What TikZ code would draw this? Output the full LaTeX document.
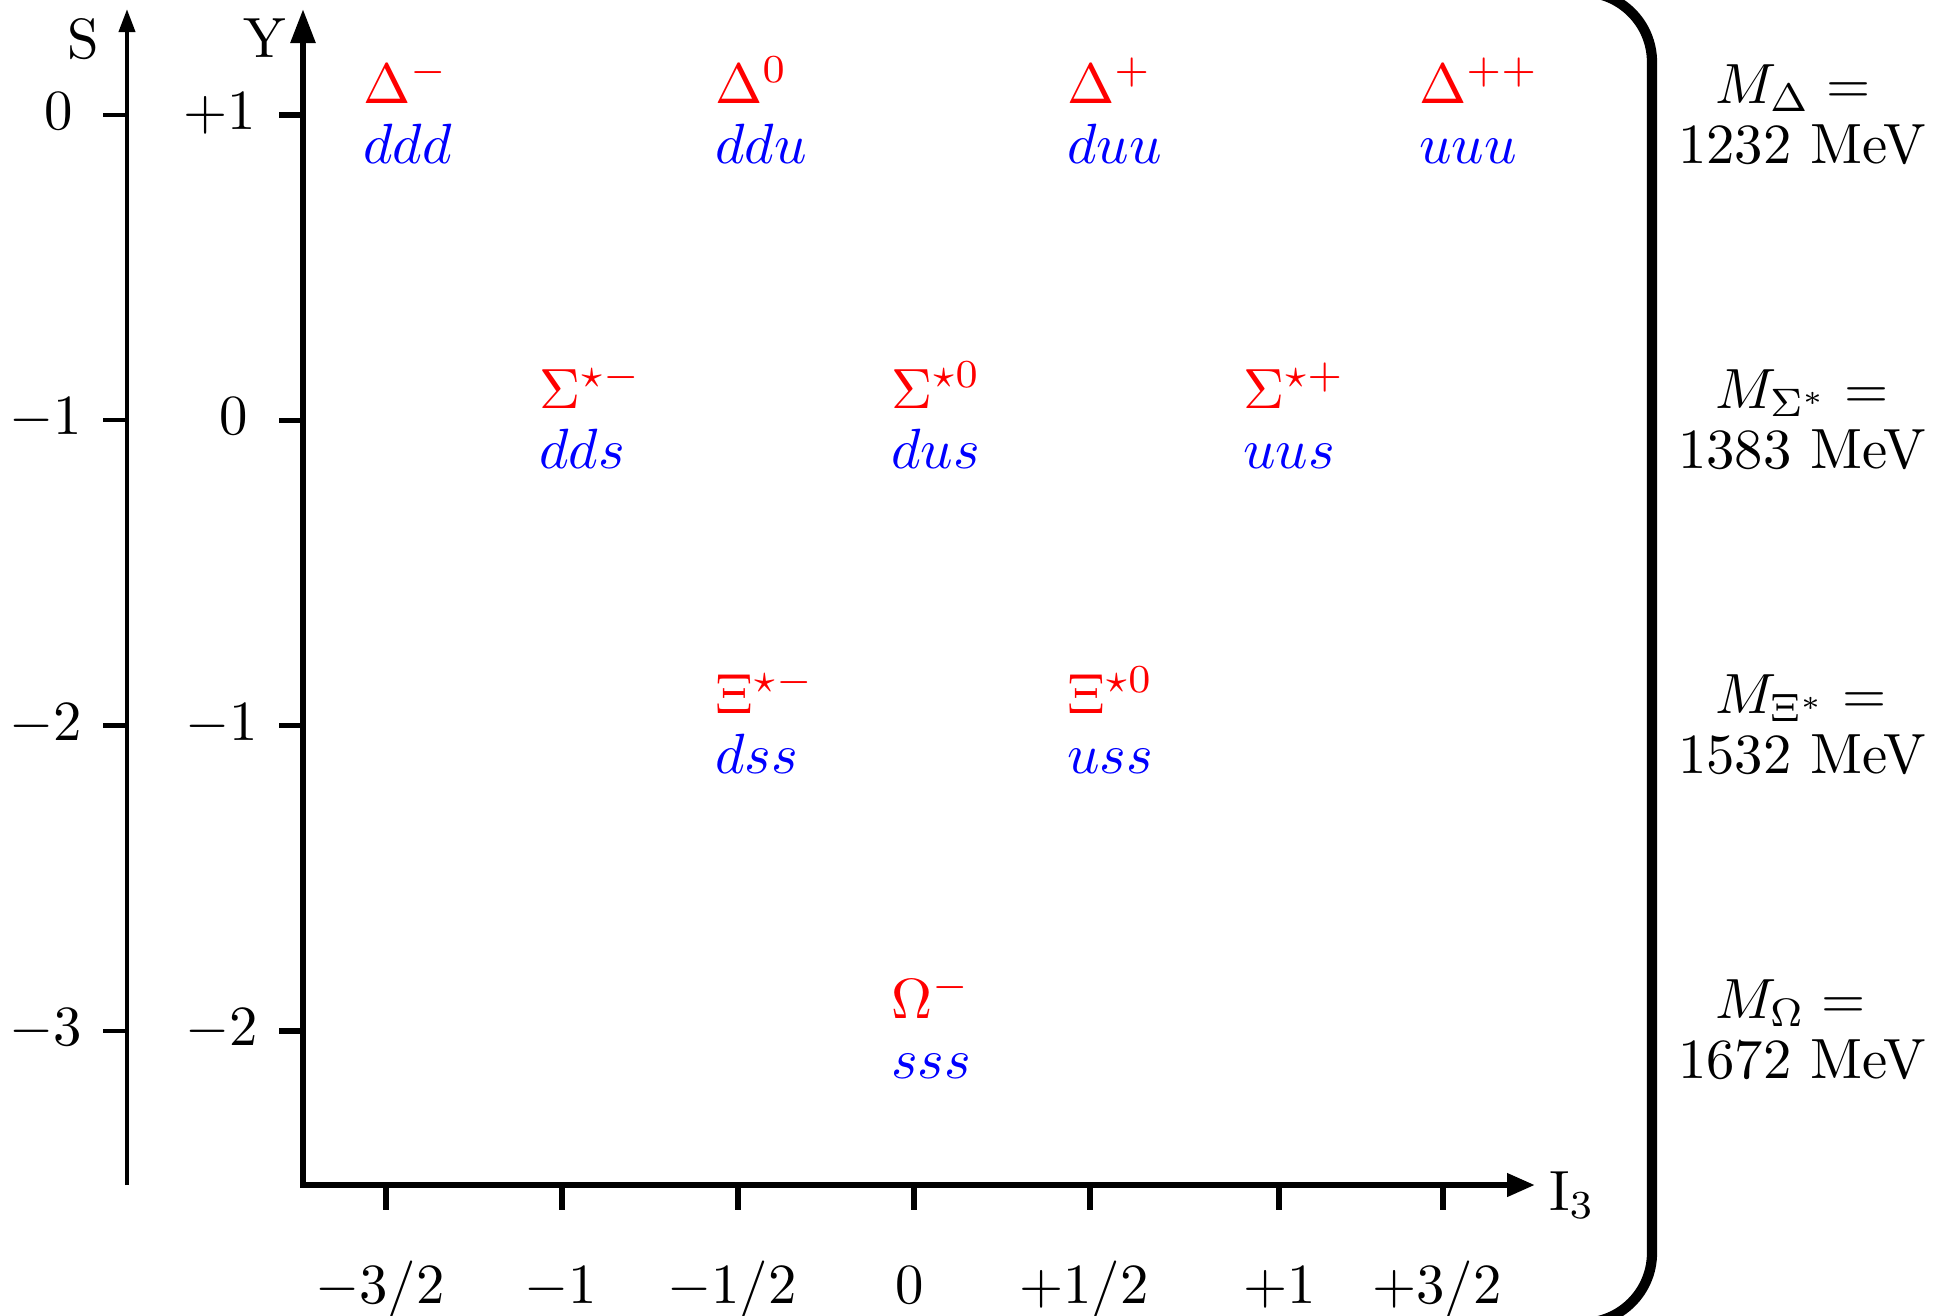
\documentclass[tikz,border=0pt]{standalone}
\usetikzlibrary{arrows.meta}
\begin{document}
\begin{tikzpicture}[x=0.0062cm,y=-0.0062cm,
  lab/.style={inner sep=0pt,anchor=base},
  part/.style={inner sep=0pt,anchor=base west,text=red},
  quark/.style={inner sep=0pt,anchor=base west,text=blue},
  mass/.style={inner sep=0pt,anchor=base west},
  saxis/.style={line width=0.75pt},
  yaxis/.style={line width=1.1pt},
  ytick/.style={line width=0.95pt},
  frameline/.style={line width=1.8pt,rounded corners=12.35pt}]
\useasboundingbox (0,0) rectangle (1937,1315);
\clip (0,0) rectangle (1937,1315);

% S axis
\coordinate (S0) at (127,1185);
\coordinate (S1) at (127,9);
\draw[saxis,-{Triangle[length=4.06pt,width=2.8pt]}] (S0) -- (S1);
\foreach \i in {0,1,2,3} {
  \coordinate (sa\i) at (103,115+305.3*\i);
  \coordinate (sb\i) at (127,115+305.3*\i);
  \draw[saxis] (sa\i) -- (sb\i);
}
\node[lab] (Slab) at (83,58) {S};
\node[lab] (s0) at (59,129) {$0$};
\node[lab] (s1) at (46,434) {$-1$};
\node[lab] (s2) at (46,740) {$-2$};
\node[lab] (s3) at (46,1045) {$-3$};

% Y and I3 axes
\coordinate (Ytop) at (303,9);
\coordinate (O) at (303,1185);
\coordinate (Iend) at (1535,1185);
\draw[yaxis,{Triangle[length=6pt,width=4.2pt]}-{Triangle[length=4.9pt,width=3.9pt]}] (Ytop) -- (O) -- (Iend);
\foreach \i in {0,1,2,3} {
  \coordinate (ya\i) at (279,115+305.3*\i);
  \coordinate (yb\i) at (303,115+305.3*\i);
  \draw[ytick] (ya\i) -- (yb\i);
}
\node[lab] (Ylab) at (265,57) {Y};
\node[lab] (y0) at (220,129) {$+1$};
\node[lab] (y1) at (234,434) {$0$};
\node[lab] (y2) at (222,740) {$-1$};
\node[lab] (y3) at (222,1045) {$-2$};

% I3 ticks
\foreach \x [count=\n] in {386,562,738,914,1090,1279,1443} {
  \coordinate (ta\n) at (\x,1185);
  \coordinate (tb\n) at (\x,1210);
  \draw[ytick] (ta\n) -- (tb\n);
}
\node[lab] (i1) at (380,1303) {$-3/2$};
\node[lab] (i2) at (561,1303) {$-1$};
\node[lab] (i3) at (732,1303) {$-1/2$};
\node[lab] (i4) at (910,1303) {$0$};
\node[lab] (i5) at (1084,1303) {$+1/2$};
\node[lab] (i6) at (1280,1303) {$+1$};
\node[lab] (i7) at (1437,1303) {$+3/2$};
\node[inner sep=0pt,anchor=base west] (Ilab) at (1548,1210) {I$_3$};

% particles
\node[part] (Dm) at (362,103) {$\Delta^-$};
\node[quark] (qDm) at (362,163) {$ddd$};
\node[part] (D0) at (714,103) {$\Delta^0$};
\node[quark] (qD0) at (714,163) {$ddu$};
\node[part] (Dp) at (1066,103) {$\Delta^+$};
\node[quark] (qDp) at (1066,163) {$duu$};
\node[part] (Dpp) at (1418,103) {$\Delta^{++}$};
\node[quark] (qDpp) at (1418,163) {$uuu$};

\node[part] (Sm) at (538,408) {$\Sigma^{\star -}$};
\node[quark] (qSm) at (538,468) {$dds$};
\node[part] (S0p) at (890,408) {$\Sigma^{\star 0}$};
\node[quark] (qS0) at (890,468) {$dus$};
\node[part] (Sp) at (1242,408) {$\Sigma^{\star +}$};
\node[quark] (qSp) at (1242,468) {$uus$};

\node[part] (Xm) at (714,713) {$\Xi^{\star -}$};
\node[quark] (qXm) at (714,773) {$dss$};
\node[part] (X0) at (1066,713) {$\Xi^{\star 0}$};
\node[quark] (qX0) at (1066,773) {$uss$};

\node[part] (Om) at (890,1018) {$\Omega^-$};
\node[quark] (qOm) at (890,1078) {$sss$};

% frame
\coordinate (f1) at (1400,-8);
\coordinate (f2) at (1652,-8);
\coordinate (f3) at (1652,1323);
\coordinate (f4) at (1400,1323);
\draw[frameline] (f1) -- (f2) -- (f3) -- (f4);

% masses
\node[mass] (mD) at (1714,103) {$M_\Delta =$};
\node[mass] (vD) at (1677,163) {1232 MeV};
\node[mass] (mS) at (1714,408) {$M_{\Sigma^*} =$};
\node[mass] (vS) at (1677,468) {1383 MeV};
\node[mass] (mX) at (1714,713) {$M_{\Xi^*} =$};
\node[mass] (vX) at (1677,773) {1532 MeV};
\node[mass] (mO) at (1714,1018) {$M_\Omega =$};
\node[mass] (vO) at (1677,1078) {1672 MeV};
\end{tikzpicture}
\end{document}
